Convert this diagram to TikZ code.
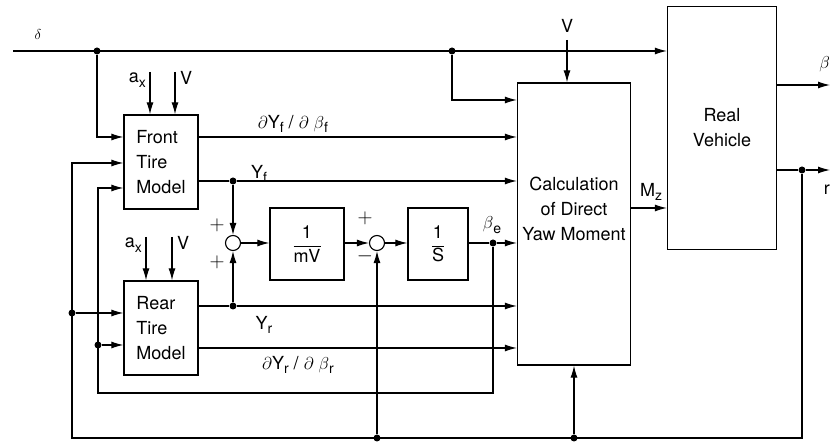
\documentclass[tikz,border=0pt]{standalone}
\usepackage{fontspec}
\setmainfont{TeX Gyre Heros}
\usetikzlibrary{arrows.meta}
\tikzset{
  blk/.style={draw, line width=1.3pt, inner sep=2pt},
  sumj/.style={draw, circle, line width=1.1pt, minimum size=15pt, inner sep=0pt},
  sig/.style={line width=1.1pt, -{Latex[length=12pt,width=7pt]}},
  wire/.style={line width=1.1pt},
  jdot/.style={circle, fill, inner sep=0pt, minimum size=7pt},
  lbl/.style={inner sep=1pt},
}
\newcommand{\sbs}[1]{\raisebox{-4.5pt}{\fontsize{14}{14}\selectfont #1}}
\begin{document}
\begin{tikzpicture}[x=1pt, y=-1pt, font=\fontsize{18}{25}\selectfont]
\useasboundingbox (0,0) rectangle (831,443);
% ---- blocks ----
\node[blk, minimum width=74pt, minimum height=94pt, align=left] (front) at (161,162) {Front\\Tire\\Model};
\node[blk, minimum width=74pt, minimum height=94pt, align=left] (rear) at (161,328) {Rear\\Tire\\Model};
\node[blk, minimum width=74pt, minimum height=72pt] (mv) at (307,244)
  {$\displaystyle\frac{\mbox{1}}{\mbox{mV}}$};
\node[blk, minimum width=60pt, minimum height=72pt] (ints) at (438,244)
  {$\displaystyle\frac{\mbox{1}}{\mbox{S}}$};
\node[blk, minimum width=113pt, minimum height=282pt] (calc) at (574,224) {};
\node[align=center] (calctxt) at (574,209) {Calculation\\of Direct\\Yaw Moment};
\node[blk, minimum width=109pt, minimum height=243pt, align=center] (veh) at (722,128) {Real\\Vehicle};
\node[sumj] (s1) at (233,243) {};
\node[sumj] (s2) at (377,243) {};
% ---- junctions and free ends ----
\node[jdot] (d1) at (97,51) {};
\node[jdot] (d2) at (452,51) {};
\node[jdot] (dyf) at (233,181) {};
\node[jdot] (dyr) at (233,306) {};
\node[jdot] (dbe) at (493,243) {};
\node[jdot] (drr) at (98,345) {};
\node[jdot] (drf) at (72,313) {};
\node[jdot] (dr) at (802,170) {};
\node[jdot] (ds2) at (377,438) {};
\node[jdot] (dcalc) at (574,438) {};
\coordinate (din) at (13,51);
\coordinate (fbl) at (98,393);
\coordinate (bl) at (72,438);
\coordinate (vin) at (567,40);
\coordinate (axf) at (150,72);
\coordinate (vf) at (175,72);
\coordinate (axr) at (146,237);
\coordinate (vr) at (172,237);
\coordinate (bout) at (830,85);
\coordinate (rout) at (830,170);
% ---- steering input ----
\draw[sig] (din) -- (veh.west |- din);
\draw[sig] (d1) |- (front.west |- 0,137);
\draw[sig] (d2) |- (calc.west |- 0,100);
\draw[sig] (vin) -- (vin |- calc.north);
\draw[sig] (axf) -- (axf |- front.north);
\draw[sig] (vf) -- (vf |- front.north);
\draw[sig] (axr) -- (axr |- rear.north);
\draw[sig] (vr) -- (vr |- rear.north);
% ---- tire forces ----
\draw[sig] (front.east |- 0,137) -- (calc.west |- 0,137);
\draw[wire] (front.east |- dyf) -- (dyf);
\draw[sig] (dyf) -- (calc.west |- dyf);
\draw[sig] (dyf) -- (s1);
\draw[wire] (rear.east |- dyr) -- (dyr);
\draw[sig] (dyr) -- (calc.west |- dyr);
\draw[sig] (dyr) -- (s1);
\draw[sig] (rear.east |- 0,348) -- (calc.west |- 0,348);
% ---- side slip estimate ----
\draw[sig] (s1) -- (mv.west |- s1);
\draw[sig] (mv.east |- s2) -- (s2);
\draw[sig] (s2) -- (ints.west |- s2);
\draw[wire] (ints.east |- dbe) -- (dbe);
\draw[sig] (dbe) -- (calc.west |- dbe);
\draw[sig] (dbe) |- (fbl) |- (front.west |- 0,188);
\draw[sig] (drr) -- (rear.west |- drr);
% ---- vehicle and yaw rate feedback ----
\draw[sig] (calc.east |- 0,208) -- (veh.west |- 0,208);
\draw[sig] (veh.east |- bout) -- (bout);
\draw[wire] (veh.east |- dr) -- (dr);
\draw[sig] (dr) -- (rout);
\draw[sig] (dr) |- (bl) |- (front.west |- 0,163);
\draw[sig] (drf) -- (rear.west |- drf);
\draw[sig] (ds2) -- (s2);
\draw[sig] (dcalc) -- (calc);
% ---- labels ----
\node[lbl] at (38,35) {\fontsize{14}{14}\selectfont$\delta$};
\node[lbl] at (567,26) {V};
\node[lbl, anchor=east] at (147,80) {a\sbs{x}};
\node[lbl, anchor=west] at (179,78) {V};
\node[lbl, anchor=east] at (143,245) {a\sbs{x}};
\node[lbl, anchor=west] at (176,243) {V};
\node[lbl] at (293,124) {$\partial$Y\sbs{f} / $\partial$ $\beta$\sbs{f}};
\node[lbl] at (259,174) {Y\sbs{f}};
\node[lbl] at (264,325) {Y\sbs{r}};
\node[lbl] at (298,365) {$\partial$Y\sbs{r} / $\partial$ $\beta$\sbs{r}};
\node[lbl] at (492,225) {$\beta$\sbs{e}};
\node[lbl] at (651,192) {M\sbs{z}};
\node[lbl, anchor=east] at (831,64) {$\beta$};
\node[lbl, anchor=east] at (831,190) {r};
\node[lbl, font=\fontsize{22}{22}\selectfont] at (217,225) {$+$};
\node[lbl, font=\fontsize{22}{22}\selectfont] at (217,262) {$+$};
\node[lbl, font=\fontsize{22}{22}\selectfont] at (365,218) {$+$};
\node[lbl, font=\fontsize{22}{22}\selectfont] at (365,256) {$-$};
\end{tikzpicture}
\end{document}
